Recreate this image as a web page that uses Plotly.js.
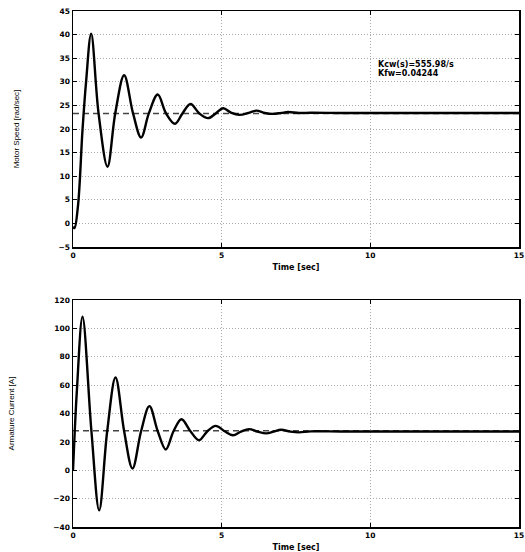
<!DOCTYPE html>
<html>
<head>
<meta charset="utf-8">
<script src="https://cdn.plot.ly/plotly-3.0.1.min.js"></script>
<style>html,body{margin:0;padding:0;background:#fff;}#chart{width:525px;height:552px;}</style>
</head>
<body>
<div id="chart"></div>
<script>
// Motor speed response (top plot)
const timeSpeed = [0, 0.05, 0.17, 0.32, 0.44, 0.61, 0.86, 1.16, 1.42, 1.72, 2.02, 2.29, 2.55, 2.85, 3.13, 3.43, 3.68, 3.95, 4.25, 4.54, 4.8, 5.05, 5.33, 5.6, 5.9, 6.17, 6.45, 6.72, 7.0, 7.23, 7.6, 8.0, 9, 10, 12, 15];
const speed = [-0.7, -1.0, 3.9, 19.8, 30, 40.2, 23.3, 12.0, 23.3, 31.4, 23.3, 18.2, 23.3, 27.3, 23.3, 21.1, 23.3, 25.3, 23.3, 22.3, 23.3, 24.4, 23.4, 23.0, 23.4, 23.9, 23.4, 23.2, 23.4, 23.6, 23.4, 23.45, 23.4, 23.4, 23.4, 23.4];
// Armature current response (bottom plot)
const timeCurrent = [0, 0.06, 0.13, 0.32, 0.62, 0.88, 1.15, 1.43, 1.72, 2.0, 2.29, 2.57, 2.85, 3.12, 3.38, 3.65, 3.95, 4.24, 4.52, 4.8, 5.1, 5.38, 5.65, 5.92, 6.2, 6.5, 6.75, 7.0, 7.3, 7.6, 8, 9, 10, 12, 15];
const current = [0, 28, 56, 108.2, 27.5, -28.2, 27.5, 65.4, 27.5, 1.2, 27.5, 45.2, 27.5, 14.6, 27.5, 36.0, 27.5, 21.2, 27.5, 31.3, 27.5, 24.7, 27.3, 29.0, 27.3, 26.0, 27.3, 28.5, 27.3, 26.7, 27.4, 27.3, 27.3, 27.3, 27.3];
// Steady-state reference lines
const refTime = [0, 15];
const speedRef = [23.3, 23.3];
const currentRef = [27.8, 27.8];
// Axis ticks
const xTicks = [0, 5, 10, 15];
const speedTicks = [-5, 0, 5, 10, 15, 20, 25, 30, 35, 40, 45];
const currentTicks = [-40, -20, 0, 20, 40, 60, 80, 100, 120];
// Annotation text
const gainText = ['Kcw(s)=555.98/s', 'Kfw=0.04244'];

const boldFont = {family: 'DejaVu Sans, sans-serif', size: 7.5, color: '#000', weight: 'bold'};
const curveLine = {color: '#000', width: 2.4, shape: 'spline', smoothing: 1};
const refLine = {color: '#444', width: 1.5, dash: '6px,4px'};

const traces = [
  {x: refTime, y: speedRef, mode: 'lines', line: refLine, xaxis: 'x', yaxis: 'y', hoverinfo: 'skip'},
  {x: timeSpeed, y: speed, mode: 'lines', line: curveLine, xaxis: 'x', yaxis: 'y'},
  {x: refTime, y: currentRef, mode: 'lines', line: refLine, xaxis: 'x2', yaxis: 'y2', hoverinfo: 'skip'},
  {x: timeCurrent, y: current, mode: 'lines', line: curveLine, xaxis: 'x2', yaxis: 'y2'}
];

function xAxis(anchor) {
  return {
    anchor: anchor, domain: [0, 1], range: [0, 15], tickvals: xTicks,
    showline: true, mirror: 'ticks', linecolor: '#000', linewidth: 1.5,
    ticks: 'inside', ticklen: 4, tickcolor: '#000', tickwidth: 1,
    showgrid: true, gridcolor: '#aaa', griddash: '1px,2px', gridwidth: 1,
    zeroline: false, tickfont: boldFont, automargin: false,
    title: {text: 'Time [sec]', font: {family: 'DejaVu Sans, sans-serif', size: 8, color: '#000', weight: 'bold'}, standoff: 6}
  };
}
function yAxis(anchor, domain, range, ticks, title) {
  return {
    anchor: anchor, domain: domain, range: range, tickvals: ticks,
    showline: true, mirror: 'ticks', linecolor: '#000', linewidth: 1.5,
    ticks: 'inside', ticklen: 4, tickcolor: '#000', tickwidth: 1,
    showgrid: true, gridcolor: '#aaa', griddash: '1px,2px', gridwidth: 1,
    zeroline: false, tickfont: boldFont, automargin: false,
    title: {text: title, font: {family: 'Liberation Sans Narrow, Liberation Sans, Arial, sans-serif', size: 8, color: '#000'}, standoff: 37}
  };
}

const layout = {
  width: 525, height: 552,
  margin: {l: 73, r: 6, t: 11, b: 25},
  paper_bgcolor: '#fff', plot_bgcolor: '#fff',
  showlegend: false,
  xaxis: xAxis('y'),
  yaxis: yAxis('x', [0.5426, 1], [-5, 45], speedTicks, 'Motor Speed [rad/sec]'),
  xaxis2: xAxis('y2'),
  yaxis2: yAxis('x2', [0, 0.4399], [-40, 120], currentTicks, 'Armature Current [A]'),
  annotations: [
    {xref: 'x', yref: 'y', x: 10.2, y: 33.6, text: gainText[0], showarrow: false, xanchor: 'left', yanchor: 'middle', font: {family: 'DejaVu Sans, sans-serif', size: 8, color: '#000', weight: 'bold'}},
    {xref: 'x', yref: 'y', x: 10.2, y: 31.8, text: gainText[1], showarrow: false, xanchor: 'left', yanchor: 'middle', font: {family: 'DejaVu Sans, sans-serif', size: 8, color: '#000', weight: 'bold'}}
  ]
};

Plotly.newPlot('chart', traces, layout, {displayModeBar: false, staticPlot: true});
</script>
</body>
</html>
